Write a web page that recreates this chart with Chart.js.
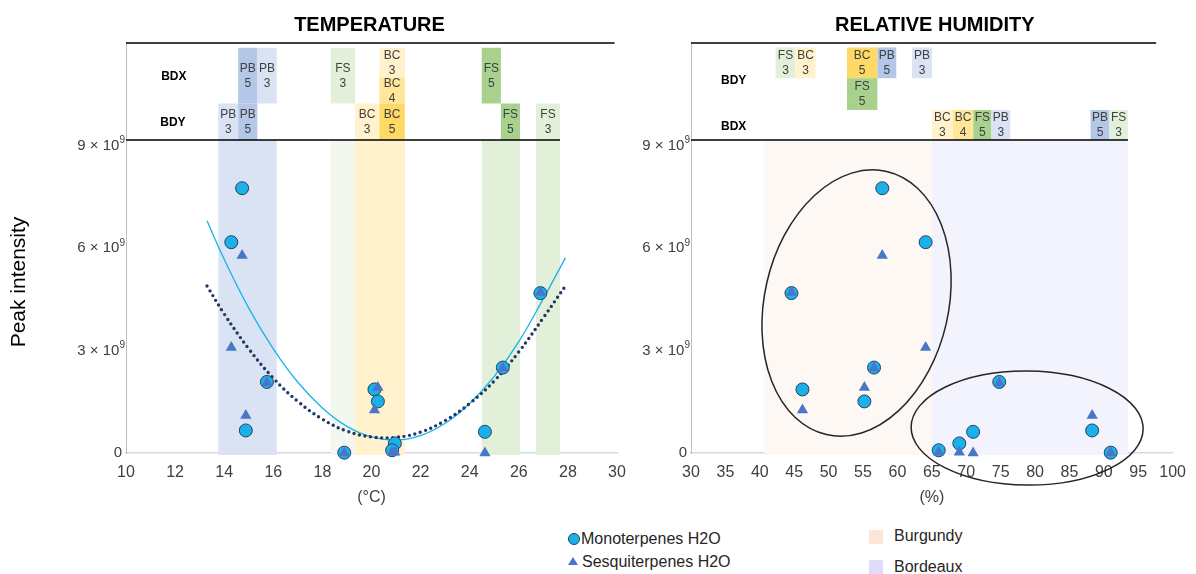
<!DOCTYPE html>
<html>
<head>
<meta charset="utf-8">
<title>Peak intensity vs temperature and relative humidity</title>
<script src="https://cdn.jsdelivr.net/npm/chart.js@4.4.1/dist/chart.umd.min.js"></script>
<style>
  body { margin: 0; background: #fff; font-family: 'Liberation Sans', Arial, sans-serif; }
  #page { position: relative; width: 1196px; height: 574px; overflow: hidden; }
  canvas { position: absolute; top: 0; }
  #tempChart { left: 0; }
  #rhChart { left: 620px; }
  .lg { position: absolute; font-size: 16px; line-height: 18px; color: #262626; white-space: nowrap; }
  .dot { position: absolute; width: 10px; height: 10px; border-radius: 50%; background: #1cb0eb; border: 1px solid #28425e; }
  .tri { position: absolute; width: 0; height: 0; border-left: 5px solid transparent; border-right: 5px solid transparent; border-bottom: 8px solid #4a76c8; }
  .sq { position: absolute; width: 14px; height: 14px; }
</style>
</head>
<body>
<div id="page">
  <canvas id="tempChart" width="640" height="515"></canvas>
  <canvas id="rhChart" width="576" height="515"></canvas>

  <div class="dot" style="left:568px;top:533px"></div>
  <div class="lg" style="left:581px;top:530px">Monoterpenes H2O</div>
  <div class="tri" style="left:568px;top:557px"></div>
  <div class="lg" style="left:582px;top:553px">Sesquiterpenes H2O</div>
  <div class="sq" style="left:869px;top:530px;background:#fbe5d6"></div>
  <div class="lg" style="left:894px;top:527px">Burgundy</div>
  <div class="sq" style="left:869px;top:560px;background:#dedcf9"></div>
  <div class="lg" style="left:894px;top:558px">Bordeaux</div>
</div>

<script>
// one entry per sample; peak intensity in units of 10^9
const tempC          = [14.73, 14.29, 26.88, 25.35, 15.74, 20.12, 20.26, 14.88, 24.62, 20.95, 20.84, 18.89];
const humidity       = [57.8, 64.1, 44.6, 56.6, 74.8, 46.2, 55.2, 88.3, 71.0, 69.0, 66.0, 91.0];
const monoterpenes   = [7.75, 6.17, 4.68, 2.50, 2.08, 1.86, 1.51, 0.66, 0.62, 0.28, 0.08, 0.01];
const sesquiterpenes = [5.78, 3.09, 4.70, 2.48, 2.05, 1.26, 1.92, 1.10, 0, 0.02, 0.02, 0];
const yTicks = [0, 3, 6, 9];

// trend curves
const trendT      = [13.3, 14, 15, 16, 17, 18, 19, 20, 21, 22, 23, 24, 25, 26, 27, 27.9];
const monoTrend   = [6.80, 5.67, 4.24, 3.05, 2.07, 1.32, 0.78, 0.47, 0.38, 0.51, 0.87, 1.45, 2.24, 3.26, 4.52, 5.71];
const sesquiTrend = [4.89, 4.07, 3.05, 2.19, 1.51, 0.99, 0.64, 0.47, 0.46, 0.61, 0.95, 1.45, 2.11, 2.96, 3.96, 4.89];

// period blocks above the plots: [name, level, from, to, low, high]
const tempBlocks = [
  ['PB', 3, 13.76, 14.57, 9.16, 10.23],
  ['PB', 5, 14.57, 15.35, 9.16, 10.23],
  ['PB', 5, 14.57, 15.35, 10.23, 11.86],
  ['PB', 3, 15.35, 16.14, 10.23, 11.86],
  ['FS', 3, 18.34, 19.33, 10.23, 11.86],
  ['BC', 3, 19.33, 20.32, 9.16, 10.23],
  ['BC', 3, 20.32, 21.36, 10.99, 11.86],
  ['BC', 4, 20.32, 21.36, 10.23, 10.99],
  ['BC', 5, 20.32, 21.36, 9.16, 10.23],
  ['FS', 5, 24.49, 25.27, 10.23, 11.86],
  ['FS', 5, 25.27, 26.05, 9.16, 10.23],
  ['FS', 3, 26.70, 27.68, 9.16, 10.23]
];
const rhBlocks = [
  ['FS', 3, 42.29, 45.17, 10.97, 11.87],
  ['BC', 3, 45.17, 48.11, 10.97, 11.87],
  ['BC', 5, 52.67, 57.09, 10.97, 11.87],
  ['PB', 5, 57.09, 59.83, 10.97, 11.87],
  ['PB', 3, 62.13, 65.01, 10.97, 11.87],
  ['FS', 5, 52.67, 57.09, 10.04, 10.97],
  ['BC', 3, 65.01, 68.04, 9.16, 10.04],
  ['BC', 4, 68.04, 71.02, 9.16, 10.04],
  ['FS', 5, 71.02, 73.66, 9.16, 10.04],
  ['PB', 3, 73.66, 76.40, 9.16, 10.04],
  ['PB', 5, 88.07, 90.81, 9.16, 10.04],
  ['FS', 3, 90.81, 93.50, 9.16, 10.04]
];

// shaded ranges behind the points: [from, to, colour]
const tempBands = [
  [13.76, 16.14, '#dae3f3'],
  [18.34, 19.33, '#f2f8ef'],
  [19.33, 21.36, '#fff2cc'],
  [24.49, 26.05, '#e2f0d9'],
  [26.70, 27.68, '#e2f0d9']
];
const rhBands = [
  [40.66, 65.01, '#fdf8f4'],
  [65.01, 93.50, '#f3f3fd']
];

const shade = {
  PB3: '#dae3f3', PB5: '#b4c7e7',
  BC3: '#fff2cc', BC4: '#ffe699', BC5: '#ffd966',
  FS3: '#e2f0d9', FS5: '#a9d18e'
};

const FONT = "'Liberation Sans', Arial, sans-serif";
const REF_LEVEL = 9.16;
Chart.defaults.font.family = FONT;

const panelDecor = {
  id: 'panelDecor',
  beforeDatasetsDraw(chart, args, o) {
    const { ctx, chartArea: a, scales: { x, y } } = chart;
    ctx.save();
    const yTop = y.getPixelForValue(REF_LEVEL), yBot = y.getPixelForValue(0);
    o.bands.forEach(([from, to, color]) => {
      const x0 = x.getPixelForValue(from), x1 = x.getPixelForValue(to);
      ctx.fillStyle = color;
      ctx.fillRect(x0, yTop, x1 - x0, yBot - yTop + 2);
    });

    ctx.textAlign = 'center';
    ctx.textBaseline = 'middle';
    o.blocks.forEach(([name, level, from, to, lo, hi]) => {
      const x0 = x.getPixelForValue(from), x1 = x.getPixelForValue(to);
      const y0 = y.getPixelForValue(hi), y1 = y.getPixelForValue(lo);
      ctx.fillStyle = shade[name + level];
      ctx.fillRect(x0, y0, x1 - x0, y1 - y0);
      ctx.fillStyle = '#404040';
      ctx.font = '12px ' + FONT;
      const cx = (x0 + x1) / 2, cy = (y0 + y1) / 2;
      ctx.fillText(name, cx, cy - 7);
      ctx.fillText(String(level), cx, cy + 8);
    });

    ctx.fillStyle = '#000';
    ctx.font = 'bold 12px ' + FONT;
    o.rows.forEach(([text, xv, yv]) => ctx.fillText(text, x.getPixelForValue(xv), y.getPixelForValue(yv)));

    ctx.strokeStyle = '#000';
    ctx.lineWidth = 1.5;
    ctx.beginPath();
    ctx.moveTo(a.left, a.top);
    ctx.lineTo(x.getPixelForValue(o.topLineTo), a.top);
    ctx.moveTo(a.left, yTop);
    ctx.lineTo(x.getPixelForValue(o.refLineTo), yTop);
    ctx.stroke();

    ctx.font = 'bold 20px ' + FONT;
    ctx.fillText(o.title, (a.left + a.right) / 2 + o.titleShift, 25);
    ctx.restore();
  },
  afterDraw(chart, args, o) {
    const { ctx, chartArea: a, scales: { x, y } } = chart;
    ctx.save();

    // y tick labels with a raised exponent
    ctx.fillStyle = '#404040';
    ctx.textBaseline = 'middle';
    ctx.textAlign = 'right';
    yTicks.forEach(v => {
      const py = y.getPixelForValue(v);
      if (v === 0) {
        ctx.font = '15px ' + FONT;
        ctx.fillText('0', a.left - 4, py);
        return;
      }
      ctx.font = '10px ' + FONT;
      ctx.fillText('9', a.left - 1, py - 5);
      const w = ctx.measureText('9').width;
      ctx.font = '15px ' + FONT;
      ctx.fillText(v + ' × 10', a.left - 1 - w, py);
    });

    ctx.strokeStyle = '#262626';
    ctx.lineWidth = 1.5;
    o.ellipses.forEach(([cxv, cyv, rx, ry, deg]) => {
      ctx.beginPath();
      ctx.ellipse(x.getPixelForValue(cxv), y.getPixelForValue(cyv), rx, ry, deg * Math.PI / 180, 0, Math.PI * 2);
      ctx.stroke();
    });
    if (o.yTitle) {
      ctx.translate(19, 282);
      ctx.rotate(-Math.PI / 2);
      ctx.fillStyle = '#000';
      ctx.font = '21px ' + FONT;
      ctx.textAlign = 'center';
      ctx.fillText(o.yTitle, 0, 0);
    }
    ctx.restore();
  }
};

function pointSets(xs) {
  return [
    {
      label: 'Sesquiterpenes H2O',
      data: xs.map((v, i) => ({ x: v, y: sesquiterpenes[i] })),
      pointStyle: 'triangle', pointRadius: 6.5,
      backgroundColor: '#4a76c8', borderWidth: 0,
      clip: false, order: 0
    },
    {
      label: 'Monoterpenes H2O',
      data: xs.map((v, i) => ({ x: v, y: monoterpenes[i] })),
      pointStyle: 'circle', pointRadius: 6.5,
      backgroundColor: '#1cb0eb', borderColor: '#28425e', borderWidth: 1,
      clip: false, order: 1
    }
  ];
}

function options(cfg) {
  return {
    responsive: false,
    animation: false,
    layout: { padding: { top: 43, right: cfg.padRight, left: 0, bottom: 0 } },
    plugins: {
      legend: { display: false },
      tooltip: { enabled: false },
      panelDecor: cfg.decor
    },
    scales: {
      x: {
        type: 'linear', min: cfg.min, max: cfg.max,
        ticks: { stepSize: cfg.step, color: '#404040', font: { size: 16 }, padding: 10 },
        grid: { display: false, drawTicks: false },
        border: { color: '#d9d9d9', width: 1.5 },
        title: { display: true, text: cfg.unit, color: '#404040', font: { size: 16 }, padding: { top: 0, bottom: 8 } },
        afterFit: s => { s.height = 62; }
      },
      y: {
        min: 0, max: 12,
        afterBuildTicks: s => { s.ticks = yTicks.map(v => ({ value: v })); },
        ticks: { display: false },
        grid: { display: false, drawTicks: false },
        border: { color: '#bfbfbf', width: 1 },
        afterFit: s => { s.width = cfg.axisWidth; }
      }
    }
  };
}

new Chart(document.getElementById('tempChart'), {
  type: 'scatter',
  data: {
    datasets: [
      ...pointSets(tempC),
      {
        label: 'Monoterpenes trend',
        data: trendT.map((t, i) => ({ x: t, y: monoTrend[i] })),
        showLine: true, pointRadius: 0, tension: 0.4,
        borderColor: '#19b1ec', borderWidth: 1.3, order: 3
      },
      {
        label: 'Sesquiterpenes trend',
        data: trendT.map((t, i) => ({ x: t, y: sesquiTrend[i] })),
        showLine: true, pointRadius: 0, tension: 0.4,
        borderColor: '#203864', borderWidth: 3.4,
        borderDash: [0, 5.6], borderCapStyle: 'round', order: 2
      }
    ]
  },
  options: options({
    min: 10, max: 30, step: 2, unit: '(°C)', axisWidth: 126, padRight: 23,
    decor: {
      title: 'TEMPERATURE', titleShift: -2,
      bands: tempBands, blocks: tempBlocks,
      rows: [['BDX', 11.95, 11.0], ['BDY', 11.91, 9.68]],
      topLineTo: 29.9, refLineTo: 27.68,
      ellipses: [],
      yTitle: 'Peak intensity'
    }
  }),
  plugins: [panelDecor]
});

new Chart(document.getElementById('rhChart'), {
  type: 'scatter',
  data: { datasets: pointSets(humidity) },
  options: options({
    min: 30, max: 100, step: 5, unit: '(%)', axisWidth: 71, padRight: 18,
    decor: {
      title: 'RELATIVE HUMIDITY', titleShift: 3,
      bands: rhBands, blocks: rhBlocks,
      rows: [['BDY', 36.2, 10.9], ['BDX', 36.2, 9.56]],
      topLineTo: 97.6, refLineTo: 93.5,
      ellipses: [[54.06, 4.39, 92, 135, 12.9], [78.85, 0.73, 116, 57, 0.5]],
      yTitle: null
    }
  }),
  plugins: [panelDecor]
});
</script>
</body>
</html>
